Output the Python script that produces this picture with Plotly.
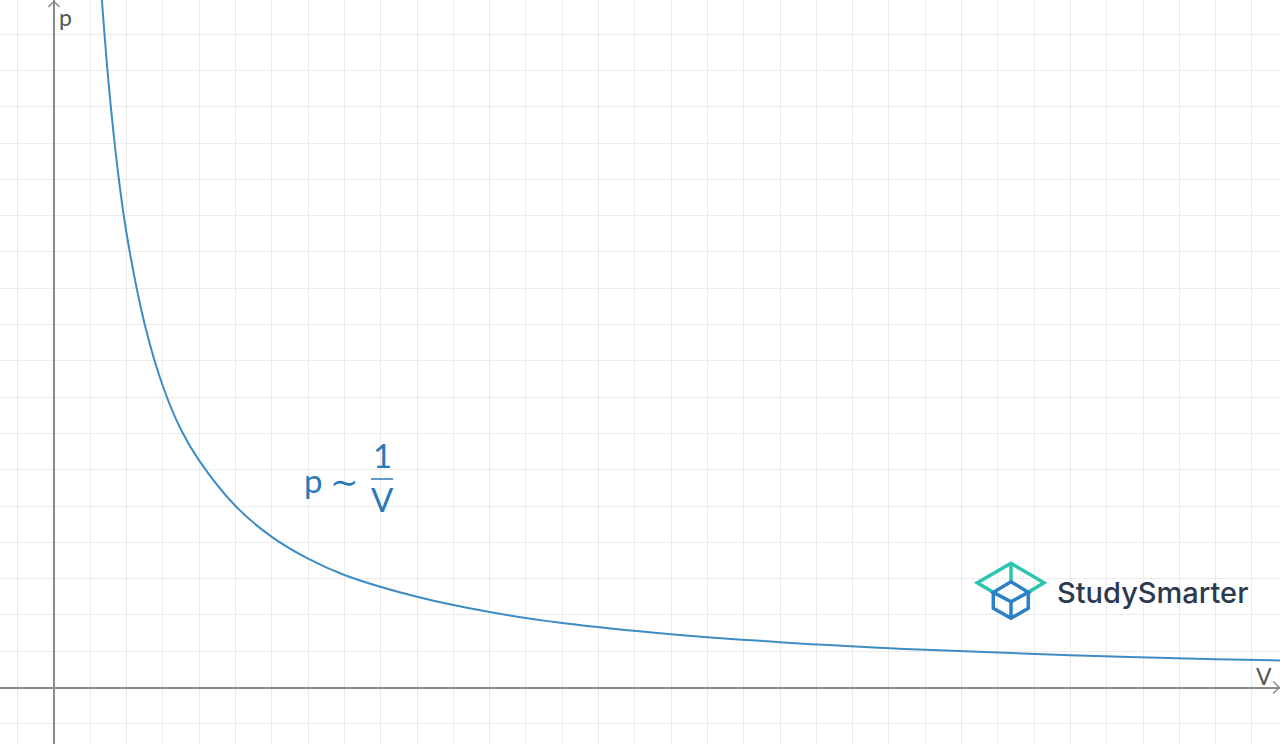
"""Boyle's law sketch: p ~ 1/V on a square grid, StudySmarter style."""

import plotly.graph_objects as go

# values (grid units)
volume = [1.3, 1.5, 1.75, 2.0, 2.5, 3.0, 3.5, 4.0, 5.0, 6.0, 7.0, 8.0,
          10.0, 12.0, 14.0, 17.0, 20.0, 24.0, 28.0, 32.0, 34.0]
pressure = [19.2, 16.7, 14.3, 12.5, 10.0, 8.3, 7.1, 6.25, 5.0, 4.15, 3.55, 3.1,
            2.5, 2.08, 1.78, 1.47, 1.25, 1.04, 0.89, 0.78, 0.74]
x_label = "V"
y_label = "p"
curve_label = ["p", "∼", "1", "V"]
brand = "StudySmarter"

W, H = 1280, 744
ORIGIN_X_PX = 54.0
ORIGIN_Y_PX = 687.5
CELL_PX = 36.3

CURVE_COLOR = "#3d8cc4"
LABEL_COLOR = "#2a79b7"
AXIS_COLOR = "#8a8a8a"
GRID_COLOR = "#ebebeb"
TEAL = "#2bc4ae"
BLUE = "#2c80c6"
BRAND_COLOR = "#2b3a4e"


def dx(px):
    """pixel column -> data x"""
    return (px - ORIGIN_X_PX) / CELL_PX


def dy(py):
    """pixel row -> data y"""
    return (ORIGIN_Y_PX - py) / CELL_PX


def path(points, close=False):
    s = "M " + " L ".join(f"{dx(x)},{dy(y)}" for x, y in points)
    return s + (" Z" if close else "")


fig = go.Figure()

fig.add_trace(go.Scatter(
    x=volume, y=pressure, mode="lines",
    line=dict(color=CURVE_COLOR, width=2, shape="spline", smoothing=1.0),
    hoverinfo="skip", showlegend=False,
))

axis_line = dict(color=AXIS_COLOR, width=1.5)
# arrowheads on the axes
fig.add_shape(type="path", path=path([(48.3, 7), (54, 1.5), (59.7, 7)]), line=axis_line)
fig.add_shape(type="path", path=path([(1273, 681.5), (1279.5, 687.5), (1273, 693.5)]),
              line=axis_line)

fig.add_annotation(x=dx(65), y=dy(17), text=y_label, showarrow=False,
                   font=dict(family="Lato", size=23, color="#555555"))
fig.add_annotation(x=dx(1264), y=dy(676), text=x_label, showarrow=False,
                   font=dict(family="Lato", size=23, color="#555555"))

# p ~ 1/V
lab_font = dict(family="Lato", size=33, color=LABEL_COLOR)
for txt, (x, y) in zip(curve_label[:1] + curve_label[2:],
                       [(313, 480), (382, 455), (382, 499)]):
    fig.add_annotation(x=dx(x), y=dy(y), text=txt, showarrow=False, font=lab_font)
fig.add_annotation(x=dx(344), y=dy(482), text=curve_label[1], showarrow=False,
                   font=dict(family="DejaVu Sans", size=34, color=LABEL_COLOR))
fig.add_shape(type="line", x0=dx(371), x1=dx(393), y0=dy(479), y1=dy(479),
              line=dict(color=LABEL_COLOR, width=1.5))

# logo icon
teal_line = dict(color=TEAL, width=3.5)
blue_line = dict(color=BLUE, width=3.5)
fig.add_shape(type="path", path=path([(993.3, 592.3), (977.3, 582.7), (1011, 563.3),
                                      (1044, 582.7), (1028.3, 592.3)]), line=teal_line)
fig.add_shape(type="path", path=path([(1011, 563.3), (1011, 581.7)]), line=teal_line)
fig.add_shape(type="path", path=path([(1011, 581.7), (993.3, 592.3), (1011, 601.7),
                                      (1028.3, 592.3)], close=True), line=blue_line)
fig.add_shape(type="path", path=path([(993.3, 592.3), (993.3, 608.3), (1011, 618.3),
                                      (1028.3, 608.3), (1028.3, 592.3)]), line=blue_line)
fig.add_shape(type="path", path=path([(1011, 601.7), (1011, 618.3)]), line=blue_line)

fig.add_annotation(x=dx(1152), y=dy(592), text=brand, showarrow=False,
                   font=dict(family="Inter", size=29, weight=500, color=BRAND_COLOR))

common_axis = dict(
    dtick=1, tick0=0, showgrid=True, gridcolor=GRID_COLOR, gridwidth=1,
    zeroline=True, zerolinecolor=AXIS_COLOR, zerolinewidth=1.5,
    showticklabels=False, ticks="", showline=False, fixedrange=True,
)
fig.update_layout(
    width=W, height=H,
    margin=dict(l=0, r=0, t=0, b=0),
    plot_bgcolor="white", paper_bgcolor="white",
    xaxis=dict(range=[dx(0), dx(W)], **common_axis),
    yaxis=dict(range=[dy(H), dy(0)], **common_axis),
    showlegend=False,
)

fig.write_html("out.html", config={"displayModeBar": False},
               post_script="document.body.style.margin = '0';")
